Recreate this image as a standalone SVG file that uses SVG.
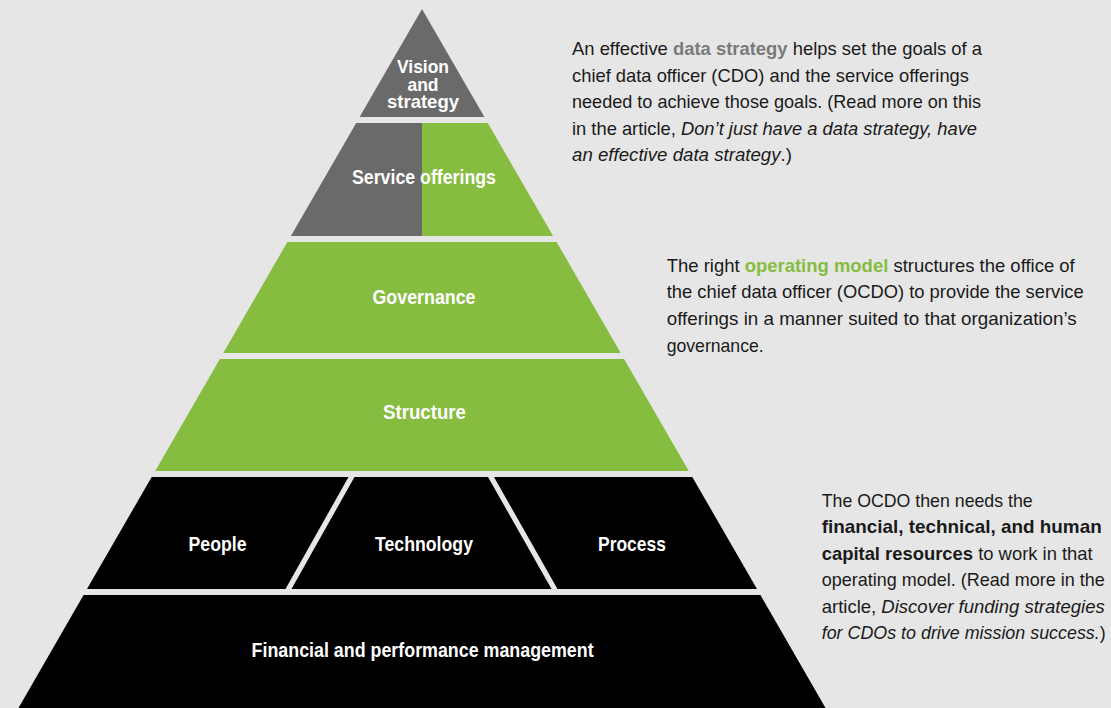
<svg xmlns="http://www.w3.org/2000/svg" width="1111" height="708" viewBox="0 0 1111 708">
  <style>
    .bg { fill: #E6E6E6; }
    .gray { fill: #6A6A6A; }
    .green { fill: #86BC40; }
    .black { fill: #000000; }
    .label { font-family: "Liberation Sans", Arial, sans-serif; font-weight: bold; font-size: 21px; fill: #FFFFFF; text-anchor: middle; }
    .small { font-size: 18.5px; }
    .body { font-family: "Liberation Sans", Arial, sans-serif; font-size: 18.5px; fill: #1A1A1A; }
    .b { font-weight: bold; }
    .i { font-style: italic; }
    .hl-gray { font-weight: bold; fill: #7A7A7A; }
    .hl-green { font-weight: bold; fill: #86BC40; }
  </style>

  <rect class="bg" x="0" y="0" width="1111" height="708"/>

  <!-- Pyramid tiers, top to bottom -->
  <g id="vision-strategy">
    <polygon class="gray" points="422,9 484.4,117 359.6,117"/>
    <text class="label small" x="423" y="72.5" textLength="52" lengthAdjust="spacingAndGlyphs">Vision</text>
    <text class="label small" x="423" y="90.5" textLength="31" lengthAdjust="spacingAndGlyphs">and</text>
    <text class="label small" x="423" y="107.5" textLength="72" lengthAdjust="spacingAndGlyphs">strategy</text>
  </g>

  <g id="service-offerings">
    <polygon class="gray" points="356.2,123 422,123 422,236 290.9,236"/>
    <polygon class="green" points="422,123 487.8,123 553.1,236 422,236"/>
    <text class="label" x="424" y="183.5" textLength="144" lengthAdjust="spacingAndGlyphs">Service offerings</text>
  </g>

  <g id="governance">
    <polygon class="green" points="287.4,242 556.6,242 620.7,353 223.3,353"/>
    <text class="label" x="424" y="303.5" textLength="103" lengthAdjust="spacingAndGlyphs">Governance</text>
  </g>

  <g id="structure">
    <polygon class="green" points="219.9,359 624.1,359 688.8,471 155.2,471"/>
    <text class="label" x="424.5" y="418.5" textLength="83" lengthAdjust="spacingAndGlyphs">Structure</text>
  </g>

  <g id="people">
    <polygon class="black" points="151.7,477 348.5,477 285.5,589 87,589"/>
    <text class="label" x="217.5" y="550.5" textLength="58" lengthAdjust="spacingAndGlyphs">People</text>
  </g>

  <g id="technology">
    <polygon class="black" points="354.5,477 488,477 551.5,589 291.5,589"/>
    <text class="label" x="424" y="550.5" textLength="98" lengthAdjust="spacingAndGlyphs">Technology</text>
  </g>

  <g id="process">
    <polygon class="black" points="494,477 692.3,477 757,589 557.5,589"/>
    <text class="label" x="632" y="550.5" textLength="68" lengthAdjust="spacingAndGlyphs">Process</text>
  </g>

  <g id="financial-performance">
    <polygon class="black" points="83.6,595 760.4,595 825.5,708 18.5,708"/>
    <text class="label" x="422.6" y="656.5" textLength="342" lengthAdjust="spacingAndGlyphs">Financial and performance management</text>
  </g>

  <!-- Explanatory notes -->
  <g id="note-strategy" class="body">
    <text x="572" y="55" textLength="410" lengthAdjust="spacingAndGlyphs">An effective <tspan class="hl-gray">data strategy</tspan> helps set the goals of a</text>
    <text x="572" y="81.5" textLength="397" lengthAdjust="spacingAndGlyphs">chief data officer (CDO) and the service offerings</text>
    <text x="572" y="108" textLength="409" lengthAdjust="spacingAndGlyphs">needed to achieve those goals. (Read more on this</text>
    <text x="572" y="134.5" textLength="405" lengthAdjust="spacingAndGlyphs">in the article, <tspan class="i">Don’t just have a data strategy, have</tspan></text>
    <text x="572" y="161" textLength="220" lengthAdjust="spacingAndGlyphs"><tspan class="i">an effective data strategy</tspan>.)</text>
  </g>

  <g id="note-operating-model" class="body">
    <text x="666.7" y="271.7" textLength="408" lengthAdjust="spacingAndGlyphs">The right <tspan class="hl-green">operating model</tspan> structures the office of</text>
    <text x="666.7" y="298.3" textLength="417" lengthAdjust="spacingAndGlyphs">the chief data officer (OCDO) to provide the service</text>
    <text x="666.7" y="325" textLength="410" lengthAdjust="spacingAndGlyphs">offerings in a manner suited to that organization’s</text>
    <text x="666.7" y="351.7" textLength="97" lengthAdjust="spacingAndGlyphs">governance.</text>
  </g>

  <g id="note-resources" class="body">
    <text x="821.7" y="506.7" textLength="211" lengthAdjust="spacingAndGlyphs">The OCDO then needs the</text>
    <text x="821.7" y="533" textLength="280" lengthAdjust="spacingAndGlyphs" class="b">financial, technical, and human</text>
    <text x="821.7" y="559.5" textLength="271" lengthAdjust="spacingAndGlyphs"><tspan class="b">capital resources</tspan> to work in that</text>
    <text x="821.7" y="586" textLength="283" lengthAdjust="spacingAndGlyphs">operating model. (Read more in the</text>
    <text x="821.7" y="612.5" textLength="283" lengthAdjust="spacingAndGlyphs">article, <tspan class="i">Discover funding strategies</tspan></text>
    <text x="821.7" y="639" textLength="284" lengthAdjust="spacingAndGlyphs"><tspan class="i">for CDOs to drive mission success.</tspan>)</text>
  </g>
</svg>
